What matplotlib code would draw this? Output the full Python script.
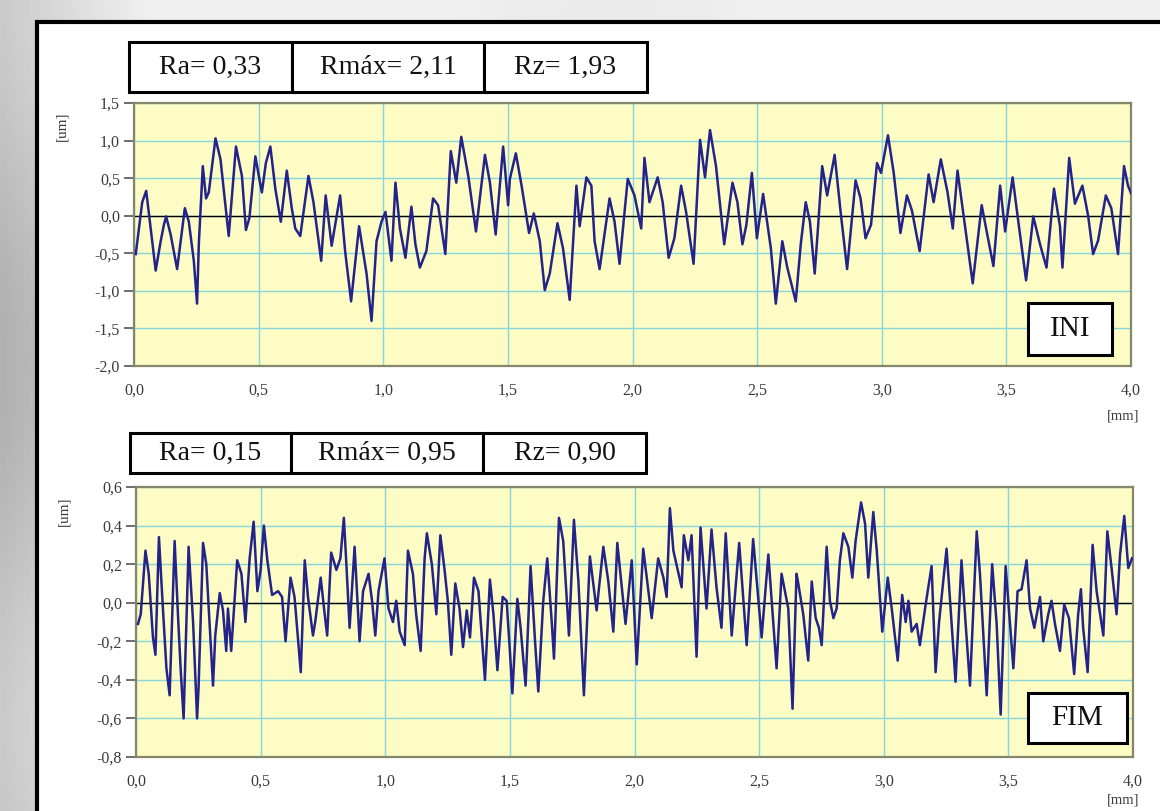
import matplotlib.pyplot as plt
from matplotlib.patches import Rectangle
from matplotlib.ticker import MultipleLocator, FuncFormatter
import numpy as np

# surface profile, initial state (INI) - x [mm], z [um]
ini_x = [0.007, 0.033, 0.049, 0.067, 0.087, 0.107, 0.120, 0.129, 0.147, 0.173,
         0.204, 0.220, 0.240, 0.253, 0.260, 0.276, 0.289, 0.300, 0.327, 0.347,
         0.380, 0.409, 0.433, 0.449, 0.463, 0.487, 0.504, 0.513, 0.529, 0.547,
         0.567, 0.589, 0.613, 0.633, 0.647, 0.667, 0.700, 0.720, 0.751, 0.769,
         0.793, 0.827, 0.847, 0.871, 0.903, 0.933, 0.953, 0.973, 0.993, 1.009,
         1.033, 1.049, 1.067, 1.089, 1.113, 1.129, 1.147, 1.173, 1.200, 1.220,
         1.249, 1.271, 1.293, 1.313, 1.341, 1.372, 1.408, 1.428, 1.451, 1.481,
         1.501, 1.508, 1.532, 1.555, 1.585, 1.604, 1.628, 1.648, 1.668, 1.699,
         1.721, 1.748, 1.775, 1.788, 1.815, 1.835, 1.848, 1.868, 1.908, 1.928,
         1.948, 1.981, 2.008, 2.035, 2.048, 2.068, 2.101, 2.121, 2.145, 2.168,
         2.195, 2.215, 2.245, 2.271, 2.291, 2.311, 2.335, 2.368, 2.401, 2.421,
         2.441, 2.457, 2.479, 2.499, 2.524, 2.555, 2.575, 2.601, 2.621, 2.655,
         2.675, 2.695, 2.712, 2.731, 2.744, 2.761, 2.781, 2.811, 2.835, 2.861,
         2.895, 2.915, 2.935, 2.957, 2.981, 2.997, 3.025, 3.048, 3.075, 3.101,
         3.121, 3.152, 3.188, 3.208, 3.237, 3.264, 3.285, 3.304, 3.328, 3.365,
         3.401, 3.421, 3.448, 3.475, 3.495, 3.525, 3.548, 3.579, 3.608, 3.635,
         3.661, 3.691, 3.715, 3.725, 3.752, 3.775, 3.805, 3.828, 3.848, 3.868,
         3.899, 3.921, 3.948, 3.972, 3.988, 4.000]
ini_z = [-0.51, 0.18, 0.33, -0.17, -0.73, -0.34, -0.12, -0.01, -0.25, -0.71,
         0.10, -0.08, -0.60, -1.17, -0.38, 0.66, 0.23, 0.31, 1.03, 0.75,
         -0.27, 0.92, 0.53, -0.19, -0.03, 0.79, 0.47, 0.31, 0.70, 0.92,
         0.36, -0.08, 0.60, 0.10, -0.17, -0.27, 0.53, 0.18, -0.60, 0.27,
         -0.40, 0.27, -0.47, -1.14, -0.14, -0.77, -1.40, -0.34, -0.08, 0.05,
         -0.60, 0.44, -0.17, -0.56, 0.12, -0.38, -0.69, -0.47, 0.23, 0.14,
         -0.51, 0.86, 0.44, 1.05, 0.53, -0.21, 0.81, 0.44, -0.25, 0.92,
         0.14, 0.49, 0.83, 0.40, -0.23, 0.03, -0.34, -0.99, -0.77, -0.10,
         -0.43, -1.12, 0.40, -0.14, 0.51, 0.40, -0.34, -0.71, 0.23, -0.08,
         -0.64, 0.49, 0.27, -0.17, 0.77, 0.18, 0.51, 0.18, -0.56, -0.30,
         0.40, 0.05, -0.64, 1.01, 0.51, 1.14, 0.66, -0.38, 0.44, 0.18,
         -0.38, -0.12, 0.57, -0.30, 0.29, -0.43, -1.17, -0.34, -0.69, -1.14,
         -0.38, 0.18, -0.08, -0.77, -0.17, 0.66, 0.27, 0.81, 0.05, -0.71,
         0.47, 0.23, -0.30, -0.12, 0.70, 0.57, 1.07, 0.57, -0.23, 0.27,
         0.07, -0.47, 0.55, 0.18, 0.75, 0.31, -0.17, 0.60, 0.01, -0.90,
         0.14, -0.21, -0.67, 0.40, -0.21, 0.51, -0.08, -0.86, -0.01, -0.38,
         -0.69, 0.36, -0.14, -0.69, 0.77, 0.16, 0.40, 0.00, -0.51, -0.33,
         0.27, 0.10, -0.51, 0.66, 0.40, 0.30]

# surface profile, final state (FIM)
fim_x = [0.008, 0.019, 0.038, 0.051, 0.068, 0.078, 0.092, 0.108, 0.122, 0.135,
         0.155, 0.169, 0.179, 0.191, 0.211, 0.229, 0.245, 0.251, 0.269, 0.282,
         0.296, 0.309, 0.318, 0.336, 0.349, 0.362, 0.369, 0.382, 0.406, 0.423,
         0.439, 0.456, 0.472, 0.487, 0.500, 0.513, 0.527, 0.546, 0.570, 0.586,
         0.600, 0.620, 0.636, 0.661, 0.677, 0.690, 0.710, 0.719, 0.741, 0.757,
         0.767, 0.783, 0.804, 0.820, 0.834, 0.844, 0.857, 0.877, 0.897, 0.911,
         0.933, 0.947, 0.960, 0.973, 0.997, 1.013, 1.031, 1.044, 1.058, 1.078,
         1.091, 1.111, 1.124, 1.142, 1.158, 1.167, 1.187, 1.205, 1.221, 1.238,
         1.251, 1.265, 1.281, 1.298, 1.312,
         1.327, 1.340, 1.356, 1.374, 1.387, 1.400, 1.420, 1.434, 1.450, 1.471,
         1.487, 1.501, 1.510, 1.530, 1.543, 1.563, 1.583, 1.601, 1.614, 1.634,
         1.650, 1.668, 1.677, 1.697, 1.714, 1.737, 1.757, 1.775, 1.797, 1.821,
         1.848, 1.875, 1.895, 1.915, 1.931, 1.964, 1.989, 2.009, 2.035, 2.069,
         2.095, 2.116, 2.129, 2.142, 2.156, 2.189, 2.198, 2.216, 2.229, 2.249,
         2.265, 2.289, 2.309, 2.329, 2.349, 2.366, 2.390, 2.420, 2.450, 2.476,
         2.510, 2.537, 2.570, 2.590, 2.617, 2.634, 2.650,
         2.657, 2.677, 2.697, 2.711, 2.727, 2.740, 2.751, 2.771, 2.784, 2.798,
         2.811, 2.824, 2.838, 2.858, 2.874, 2.887, 2.909, 2.925, 2.938, 2.958,
         2.972, 2.994, 3.016, 3.032, 3.056, 3.074, 3.088, 3.099, 3.112, 3.132,
         3.145, 3.168, 3.192, 3.208, 3.222, 3.252, 3.272, 3.288, 3.312, 3.328,
         3.346, 3.373, 3.386, 3.413, 3.435, 3.453, 3.469, 3.489, 3.506, 3.520,
         3.537, 3.553, 3.573, 3.587, 3.604, 3.627, 3.640, 3.660, 3.673, 3.687,
         3.707, 3.724, 3.743, 3.764, 3.780, 3.791, 3.800, 3.818, 3.838, 3.854,
         3.881, 3.897, 3.914, 3.934, 3.948, 3.965, 3.981, 3.996]
fim_z = [-0.11, -0.06, 0.27, 0.15, -0.18, -0.27, 0.34, -0.03, -0.34, -0.48,
         0.32, -0.08, -0.34, -0.60, 0.29, -0.10, -0.60, -0.44, 0.31, 0.20,
         -0.13, -0.43, -0.17, 0.05, -0.04, -0.25, -0.03, -0.25, 0.22, 0.15,
         -0.10, 0.23, 0.42, 0.06, 0.17, 0.40, 0.22, 0.04, 0.06, 0.03,
         -0.20, 0.13, 0.03, -0.36, 0.22, 0.03, -0.17, -0.10, 0.13, -0.06,
         -0.17, 0.26, 0.17, 0.23, 0.44, 0.20, -0.13, 0.29, -0.20, 0.06,
         0.15, 0.01, -0.17, 0.06, 0.23, -0.03, -0.10, 0.01, -0.15, -0.22,
         0.27, 0.15, -0.06, -0.25, 0.23, 0.36, 0.20, -0.06, 0.35, 0.17,
         0.01, -0.27, 0.10, -0.03, -0.23,
         -0.04, -0.18, 0.13, 0.06, -0.17, -0.40, 0.12, -0.06, -0.35, 0.03,
         0.01, -0.27, -0.47, 0.02, -0.13, -0.43, 0.19, -0.20, -0.46, 0.01,
         0.23, -0.10, -0.29, 0.44, 0.32, -0.17, 0.43, 0.11, -0.48, 0.24,
         -0.04, 0.29, 0.11, -0.15, 0.31, -0.11, 0.22, -0.32, 0.28, -0.08,
         0.23, 0.13, 0.03, 0.49, 0.27, 0.08, 0.35, 0.22, 0.35, -0.28,
         0.39, -0.03, 0.38, 0.08, -0.13, 0.36, -0.17, 0.31, -0.22, 0.33,
         -0.18, 0.25, -0.34, 0.15, -0.03, -0.55, 0.15,
         0.10, -0.06, -0.30, 0.11, -0.08, -0.13, -0.22, 0.29, 0.01, -0.08,
         -0.03, 0.22, 0.36, 0.29, 0.13, 0.32, 0.52, 0.41, 0.13, 0.47,
         0.27, -0.15, 0.13, -0.03, -0.30, 0.04, -0.10, 0.01, -0.15, -0.11,
         -0.22, -0.01, 0.19, -0.36, -0.10, 0.28, -0.10, -0.41, 0.22, -0.10,
         -0.43, 0.37, 0.15, -0.48, 0.20, -0.11, -0.58, 0.19, -0.10, -0.34,
         0.06, 0.07, 0.22, -0.03, -0.13, 0.03, -0.20, -0.06, 0.01, -0.11,
         -0.25, -0.01, -0.08, -0.37, -0.06, 0.07, -0.13, -0.36, 0.30, 0.06,
         -0.17, 0.37, 0.18, -0.06, 0.25, 0.45, 0.18, 0.23]

ini_stats = ['Ra= 0,33', 'Rmáx= 2,11', 'Rz= 1,93']
fim_stats = ['Ra= 0,15', 'Rmáx= 0,95', 'Rz= 0,90']

W, H = 1160, 811
SERIF = 'Liberation Serif'


def fx(x):
    return x / W


def fy(y):
    return 1 - y / H


def comma(v, pos):
    return f'{v:.1f}'.replace('.', ',')


def pixel_box(fig, x0, x1, y0, y1, text, size):
    fig.add_artist(Rectangle((fx(x0), fy(y1)), fx(x1) - fx(x0), fy(y0) - fy(y1),
                             transform=fig.transFigure, facecolor='white',
                             edgecolor='black', lw=2.2, zorder=5))
    fig.text(fx((x0 + x1) / 2), fy((y0 + y1) / 2), text, ha='center', va='center',
             fontsize=size, family=SERIF, color='#111111', zorder=6)


def profile_panel(fig, box, xs, zs, ylim, ystep, tag, tag_box, stats, stats_cells,
                  stats_y, mm_y):
    ax = fig.add_axes(box)
    ax.set_facecolor('#fdfcc4')
    ax.plot(xs, zs, color='#23238a', lw=1.8, solid_joinstyle='round', zorder=3)
    ax.axhline(0, color='black', lw=1.0, zorder=2)
    ax.set_xlim(0, 4)
    ax.set_ylim(*ylim)
    ax.xaxis.set_major_locator(MultipleLocator(0.5))
    ax.yaxis.set_major_locator(MultipleLocator(ystep))
    ax.xaxis.set_major_formatter(FuncFormatter(comma))
    ax.yaxis.set_major_formatter(FuncFormatter(comma))
    ax.grid(True, color='#86d6dc', lw=1.0, zorder=1)
    ax.set_axisbelow(True)
    for s in ax.spines.values():
        s.set_color('#86866a')
        s.set_linewidth(1.6)
    ax.tick_params(axis='y', length=7, width=1.2, color='#555555', pad=3,
                   labelsize=11.5, labelcolor='#3a3a3a')
    ax.tick_params(axis='x', length=0, pad=12, labelsize=11.5, labelcolor='#3a3a3a')
    for lab in ax.get_xticklabels() + ax.get_yticklabels():
        lab.set_family(SERIF)
    ax.set_ylabel('[um]', family=SERIF, fontsize=11, color='#3a3a3a')
    ax.yaxis.set_label_coords(-0.066, 1 - 0.09)
    fig.text(fx(1123), fy(mm_y), '[mm]', ha='center', va='center',
             family=SERIF, fontsize=10.5, color='#3a3a3a')
    pixel_box(fig, *tag_box, tag, 21)
    for i, txt in enumerate(stats):
        pixel_box(fig, stats_cells[i], stats_cells[i + 1], stats_y[0], stats_y[1], txt, 20)
    return ax


fig = plt.figure(figsize=(W / 100, H / 100), dpi=100)

# grey photographic backdrop
bg = fig.add_axes([0, 0, 1, 1], zorder=-10)
gx = np.linspace(0, 1, 200)
gy = np.linspace(0, 1, 200)
GX, GY = np.meshgrid(gx, gy)
shade = 0.74 + 0.16 * np.clip(GX * 6, 0, 1) + 0.05 * np.cos(GY * 7.0) + 0.03 * np.sin(GX * 9)
bg.imshow(np.clip(shade, 0, 0.94), cmap='gray', vmin=0, vmax=1, aspect='auto',
          extent=[0, 1, 0, 1], origin='upper')
bg.axis('off')

# white framed panel
fig.add_artist(Rectangle((fx(37), -0.1), 1.2, fy(22) + 0.1, transform=fig.transFigure,
                         facecolor='white', edgecolor='black', lw=3, zorder=-5))

profile_panel(fig, [fx(134), fy(366), fx(1131) - fx(134), fy(103) - fy(366)],
              ini_x, ini_z, (-2.0, 1.5), 0.5, 'INI', (1028, 1112, 303, 355),
              ini_stats, [129, 292, 484, 647], (42, 92), 416)
profile_panel(fig, [fx(136), fy(757), fx(1133) - fx(136), fy(487) - fy(757)],
              fim_x, fim_z, (-0.8, 0.6), 0.2, 'FIM', (1028, 1127, 693, 743),
              fim_stats, [130, 291, 483, 646], (433, 473), 800)

fig.savefig('out.png', dpi=100)
